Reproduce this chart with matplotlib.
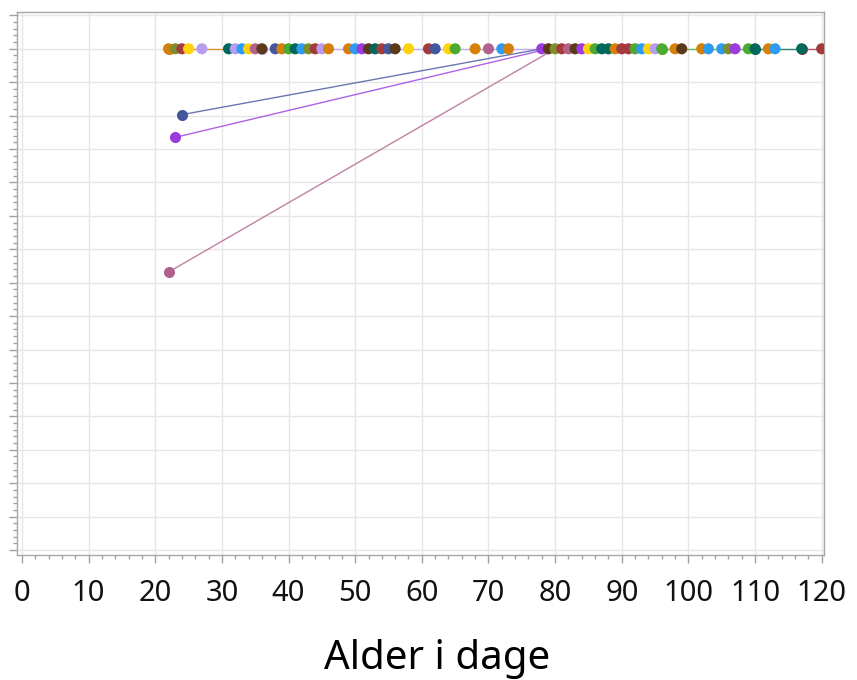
import matplotlib.pyplot as plt
from matplotlib.ticker import MultipleLocator

plt.rcParams['font.family'] = ['Noto Sans', 'DejaVu Sans']

# farver
palette = {
    'orange': '#D6800A', 'olive': '#7E8E2C', 'darkred': '#A53A3C',
    'yellow': '#FFD20A', 'lavender': '#B69DF0', 'teal': '#00695C',
    'blue': '#2C9CF2', 'mauve': '#B0628C', 'brown': '#5A3A18',
    'slate': '#44569C', 'green': '#4CAA30', 'purple': '#9A3CE0',
}

# punkter i øverste række (y = 15)
dot_x = [22, 23, 24, 25, 27, 31, 32, 33, 34, 35, 36, 38, 39, 40, 41, 42, 43, 44,
         45, 46, 49, 50, 51, 52, 53, 54, 55, 56, 58, 61, 62, 64, 65, 68, 70, 72,
         73, 78, 79, 80, 81, 82, 83, 84, 85, 86, 87, 88, 89, 90, 91, 92, 93, 94,
         95, 96, 98, 99, 102, 103, 105, 106, 107, 109, 110, 112, 113, 117, 120]
dot_c = ['orange', 'olive', 'darkred', 'yellow', 'lavender', 'teal', 'lavender',
         'blue', 'yellow', 'mauve', 'brown', 'slate', 'orange', 'green', 'teal',
         'blue', 'olive', 'darkred', 'lavender', 'orange', 'orange', 'blue',
         'purple', 'brown', 'teal', 'darkred', 'slate', 'brown', 'yellow',
         'darkred', 'slate', 'yellow', 'green', 'orange', 'mauve', 'blue',
         'orange', 'purple', 'brown', 'olive', 'darkred', 'mauve', 'brown',
         'purple', 'yellow', 'green', 'teal', 'teal', 'orange', 'darkred',
         'darkred', 'green', 'blue', 'yellow', 'lavender', 'green', 'orange',
         'brown', 'orange', 'blue', 'blue', 'olive', 'purple', 'green', 'teal',
         'orange', 'blue', 'teal', 'darkred']
row_y = 15

# serier der forbinder punkter
series = [
    ([22, 31], [15, 15], 'orange'),
    ([36, 78], [15, 15], 'lavender'),
    ([96, 109], [15, 15], 'green'),
    ([110, 117], [15, 15], 'teal'),
    ([117, 120], [15, 15], 'darkred'),
    ([24, 78], [13.03, 15], 'slate'),
    ([23, 79], [12.35, 15], 'purple'),
    ([22, 80], [8.32, 15], 'mauve'),
]

fig = plt.figure(figsize=(8.57, 6.8), dpi=100)
ax = fig.add_axes([0.0198, 0.1838, 0.9417, 0.7985])

for xs, ys, c in series:
    ax.plot(xs, ys, color=palette[c], lw=1, alpha=0.8, zorder=2)
    ax.scatter(xs[0], ys[0], s=64, color=palette[c], zorder=3, linewidths=0)

ax.scatter(dot_x, [row_y] * len(dot_x), s=64,
           c=[palette[c] for c in dot_c], zorder=4, linewidths=0)

ax.set_xlim(-0.75, 120.35)
ax.set_ylim(-0.15, 16.1)
ax.xaxis.set_major_locator(MultipleLocator(10))
ax.xaxis.set_minor_locator(MultipleLocator(2))
ax.yaxis.set_major_locator(MultipleLocator(1))
ax.yaxis.set_minor_locator(MultipleLocator(0.2))
ax.set_yticklabels([])

ax.grid(True, which='major', color='#E6E6E6', lw=1)
ax.set_axisbelow(True)
for s in ax.spines.values():
    s.set_color('#A8A8A8')
    s.set_linewidth(1)

ax.tick_params(axis='both', which='major', color='#A0A0A0', length=6, width=1)
ax.tick_params(axis='both', which='minor', color='#A0A0A0', length=3, width=1)
ax.tick_params(axis='x', which='major', labelsize=21, pad=11, labelcolor='#111111')

ax.set_xlabel('Alder i dage', fontsize=29)
ax.xaxis.set_label_coords(0.52, -0.155)

plt.savefig('out.png', dpi=100)
